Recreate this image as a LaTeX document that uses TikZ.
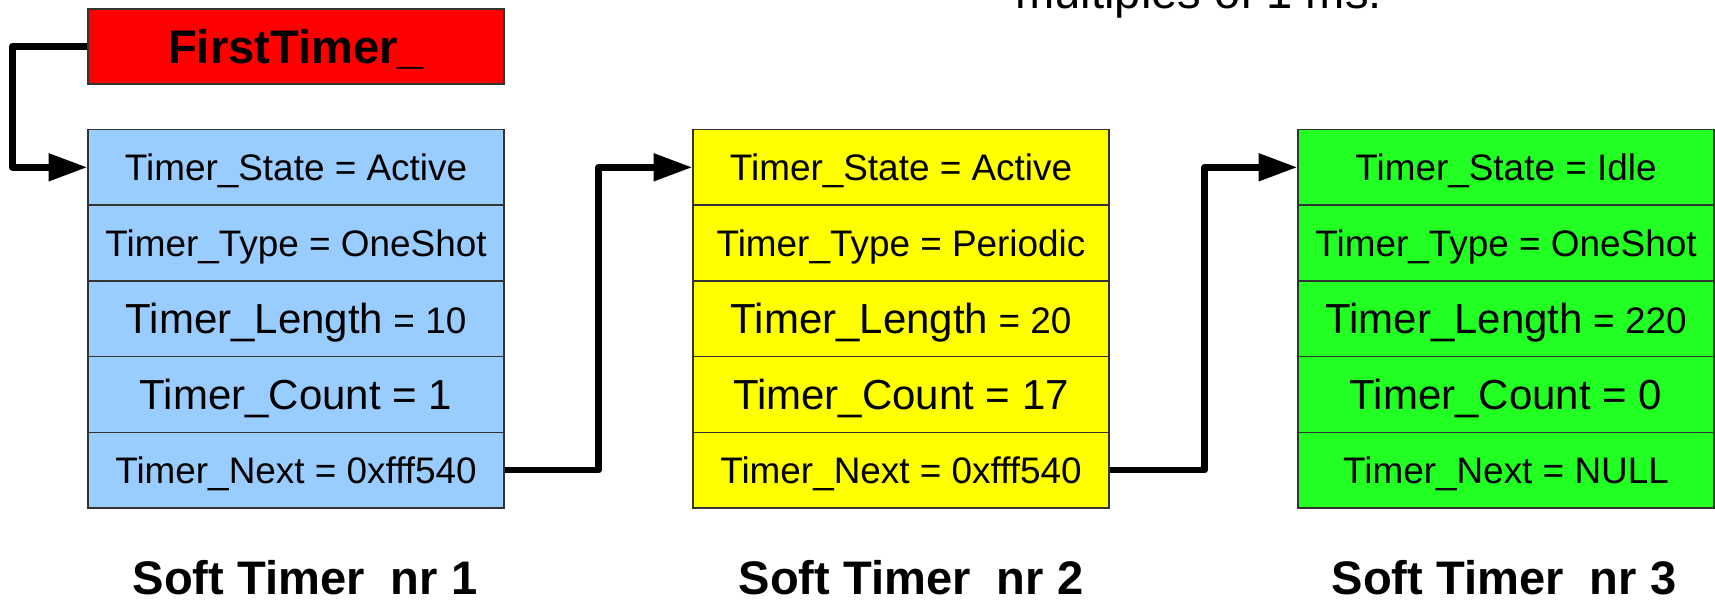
\documentclass[tikz,border=0pt]{standalone}
\usepackage{fontspec}
\setmainfont{Liberation Sans}
\usepackage{xcolor}
\usetikzlibrary{arrows.meta}

\definecolor{timerblue}{HTML}{99CCFF}
\definecolor{timeryellow}{HTML}{FFFF00}
\definecolor{timergreen}{HTML}{22FF22}
\definecolor{edgegray}{HTML}{333333}

\newcommand{\fieldsz}{\fontsize{10.5pt}{12pt}\selectfont}
\newcommand{\bigsz}{\fontsize{11.95pt}{14pt}\selectfont}
\newcommand{\headsz}{\fontsize{13.4pt}{16pt}\selectfont}

\tikzset{
	field/.style = {draw=edgegray, line width=0.4pt, minimum width=4.16cm, minimum height=0.757cm, inner sep=0pt, text height=7.4pt, text depth=-0.3pt},
	bigfield/.style = {field, text height=8.4pt},
	link/.style = {line width=1.9pt, line join=round, -{Triangle[length=11pt, width=7.5pt]}}
}

\begin{document}
\begin{tikzpicture}
					\useasboundingbox (0,0) rectangle (17.15,5.99);
					\node[anchor=base west] (note) at (10.03,5.905) {\headsz multiples of 1 ms.};
					\node[field, fill=red, minimum height=0.75cm, text height=9.5pt] (first) at (2.96,5.525) {\headsz\bfseries FirstTimer\_};
					
					\foreach \n/\tx/\lx/\tcol/\tstate/\ttype/\tlen/\tcount/\tnext in {
						1/2.96/3.05/timerblue/Active/OneShot/10/1/0xfff540,
						2/9.01/9.11/timeryellow/Active/Periodic/20/17/0xfff540,
						3/15.06/15.04/timergreen/Idle/OneShot/220/0/NULL
					}
					{
						\node[field, fill=\tcol] (t\n-1) at (\tx,4.317) {\fieldsz Timer\_State = \tstate};
						\node[field, fill=\tcol] (t\n-2) at (\tx,3.560) {\fieldsz Timer\_Type = \ttype};
						\node[bigfield, fill=\tcol] (t\n-3) at (\tx,2.803) {\bigsz Timer\_Length{\fieldsz{} = \tlen}};
						\node[bigfield, fill=\tcol] (t\n-4) at (\tx,2.046) {\bigsz Timer\_Count = \tcount};
						\node[field, fill=\tcol] (t\n-5) at (\tx,1.289) {\fieldsz Timer\_Next = \tnext};
						\node[anchor=base] (lab\n) at (\lx,0.05) {\headsz\bfseries Soft Timer\ \ nr \n};
					}
					
					\draw[link] (first.west) -- ++(-0.75,0) |- (t1-1.west);
					\draw[link] (t1-5.east) -- ++(0.94,0) |- (t2-1.west);
					\draw[link] (t2-5.east) -- ++(0.95,0) |- (t3-1.west);
				\end{tikzpicture}
\end{document}
